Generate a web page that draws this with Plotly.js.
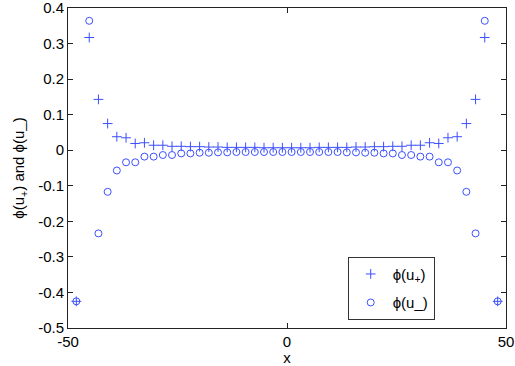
<!DOCTYPE html>
<html>
<head>
<meta charset="utf-8">
<script src="https://cdn.plot.ly/plotly-3.0.1.min.js"></script>
<style>
  html, body { margin: 0; padding: 0; background: #fff; }
  #chart { width: 515px; height: 366px; }
</style>
</head>
<body>
<div id="chart"></div>
<script>
// Grid positions
const xPos = [
  -48.1, -45.15, -43.05, -40.95, -38.85, -36.75, -34.65, -32.55, -30.45, -28.35, -26.25, -24.15,
  -22.05, -19.95, -17.85, -15.75, -13.65, -11.55, -9.45, -7.35, -5.25, -3.15, -1.05,
  1.05, 3.15, 5.25, 7.35, 9.45, 11.55, 13.65, 15.75, 17.85, 19.95, 22.05,
  24.15, 26.25, 28.35, 30.45, 32.55, 34.65, 36.75, 38.85, 40.95, 43.05, 45.15, 48.1
];
// phi(u_+) values
const phiPlus = [
  -0.425, 0.317, 0.143, 0.075, 0.038, 0.035, 0.019, 0.021, 0.014, 0.014, 0.011, 0.011,
  0.010, 0.010, 0.009, 0.009, 0.008, 0.008, 0.008, 0.008, 0.007, 0.007, 0.007,
  0.007, 0.007, 0.007, 0.008, 0.008, 0.008, 0.008, 0.009, 0.009, 0.010, 0.010,
  0.011, 0.011, 0.014, 0.014, 0.021, 0.019, 0.035, 0.038, 0.075, 0.143, 0.317, -0.425
];
// phi(u_-) values
const phiMinus = [
  -0.425, 0.364, -0.234, -0.117, -0.057, -0.034, -0.034, -0.018, -0.018, -0.0135, -0.0135, -0.009,
  -0.009, -0.007, -0.007, -0.006, -0.006, -0.005, -0.005, -0.005, -0.005, -0.005, -0.005,
  -0.005, -0.005, -0.005, -0.005, -0.005, -0.005, -0.006, -0.006, -0.007, -0.007, -0.009,
  -0.009, -0.0135, -0.0135, -0.018, -0.018, -0.034, -0.034, -0.057, -0.117, -0.234, 0.364, -0.425
];
const xTickVals = [-50, 0, 50];
const xTickText = ["-50", "0", "50"];
const yTickVals = [-0.5, -0.4, -0.3, -0.2, -0.1, 0, 0.1, 0.2, 0.3, 0.4];
const yTickText = ["-0.5", "-0.4", "-0.3", "-0.2", "-0.1", "0", "0.1", "0.2", "0.3", "0.4"];
const seriesNames = ["\u03d5(u<sub>+</sub>)", "\u03d5(u_)"];

const blue = 'rgb(60,80,255)';
const fontFam = 'Liberation Sans, Arial, Helvetica, sans-serif';

const traces = [
  {
    x: xPos, y: phiPlus, type: 'scatter', mode: 'markers', name: seriesNames[0],
    legendgroup: 'a',
    marker: { symbol: 'cross-thin-open', size: 7, color: blue, line: { color: blue, width: 1 } }
  },
  {
    x: xPos, y: phiMinus, type: 'scatter', mode: 'markers', name: seriesNames[1],
    legendgroup: 'b',
    marker: { symbol: 'circle-open', size: 7, color: blue, line: { color: blue, width: 1 } }
  }
];

const axisCommon = {
  showline: true, mirror: 'ticks', linecolor: '#222', linewidth: 1,
  ticks: 'inside', ticklen: 5, tickcolor: '#222', tickwidth: 1,
  showgrid: false, zeroline: false,
  ticklabeloverflow: 'allow',
  tickfont: { family: fontFam, size: 15, color: '#000' }
};

const layout = {
  width: 515, height: 366,
  margin: { l: 68, r: 9, t: 8, b: 38 },
  paper_bgcolor: '#fff', plot_bgcolor: '#fff',
  font: { family: fontFam, color: '#000' },
  showlegend: true,
  xaxis: Object.assign({}, axisCommon, {
    range: [-50, 50], tickmode: 'array', tickvals: xTickVals, ticktext: xTickText,
    title: { text: 'x', font: { family: fontFam, size: 15 }, standoff: 1 }
  }),
  yaxis: Object.assign({}, axisCommon, {
    range: [-0.5, 0.4], tickmode: 'array', tickvals: yTickVals, ticktext: yTickText,
    title: { text: '\u03d5(u<sub>+</sub>) and \u03d5(u_)', font: { family: fontFam, size: 15 }, standoff: 9 }
  }),
  legend: {
    x: 0.6386, y: 0.2228, xanchor: 'left', yanchor: 'top',
    bgcolor: '#fff', bordercolor: '#333', borderwidth: 1,
    font: { family: fontFam, size: 15, color: '#000' },
    traceorder: 'grouped', tracegroupgap: 6, itemwidth: 34
  },
  hovermode: false
};

Plotly.newPlot('chart', traces, layout, { displayModeBar: false, staticPlot: true });
</script>
</body>
</html>
